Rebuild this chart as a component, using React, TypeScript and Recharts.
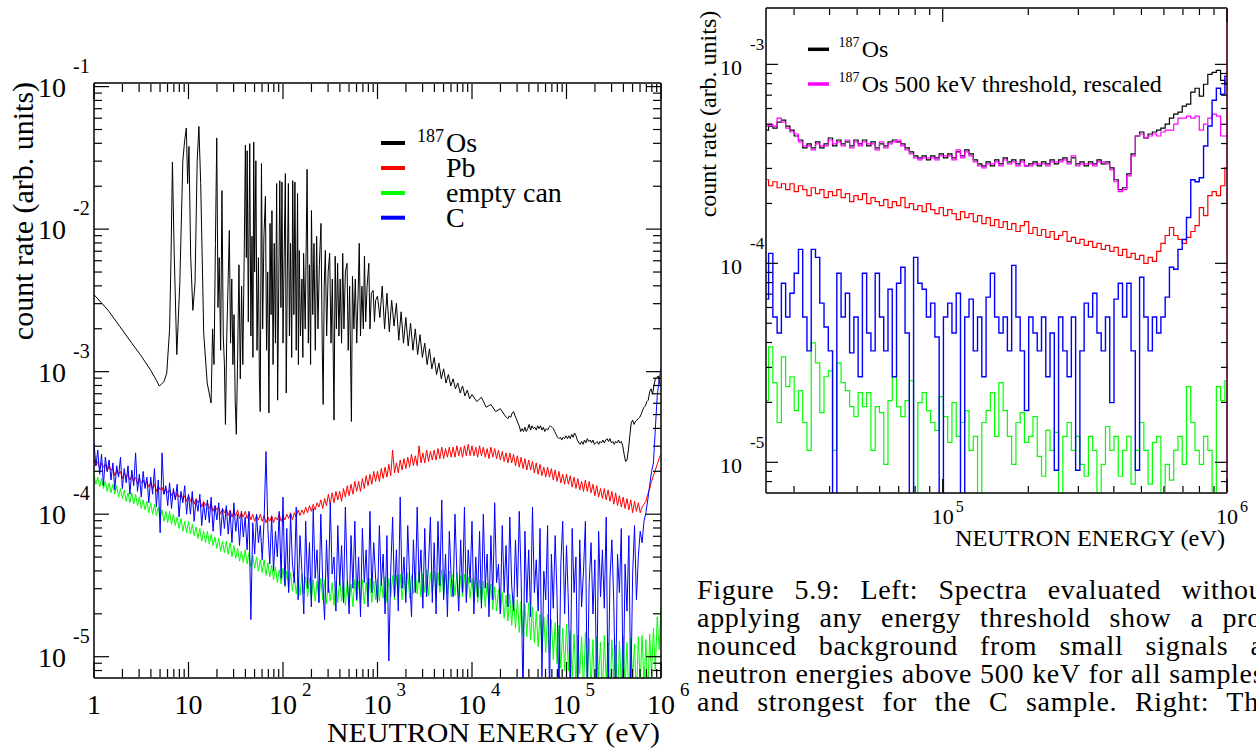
import React from 'react';
import { LineChart, Line, XAxis, YAxis } from 'recharts';

const FONT = '"Liberation Serif", "Times New Roman", Times, serif';

// ---------------- LEFT PANEL DATA (log10 of values) ----------------
// Pb, empty can and C spectra: bins equally spaced in log10(E), from 1 eV, step 0.02 decade
const leftBinStartLogE = 0;
const leftBinWidthLogE = 0.02;

const pbLogRate = [
  -3.62, -3.66, -3.63, -3.68, -3.64, -3.67, -3.65, -3.70, -3.66, -3.69,
  -3.68, -3.73, -3.69, -3.72, -3.70, -3.75, -3.71, -3.74, -3.72, -3.76,
  -3.73, -3.77, -3.74, -3.79, -3.75, -3.78, -3.76, -3.80, -3.77, -3.81,
  -3.78, -3.82, -3.79, -3.84, -3.80, -3.83, -3.81, -3.86, -3.82, -3.85,
  -3.83, -3.87, -3.84, -3.89, -3.85, -3.88, -3.86, -3.90, -3.87, -3.91,
  -3.87, -3.91, -3.88, -3.93, -3.89, -3.92, -3.90, -3.95, -3.91, -3.94,
  -3.92, -3.96, -3.93, -3.98, -3.94, -3.97, -3.95, -4.00, -3.96, -3.99,
  -3.96, -4.01, -3.97, -4.02, -3.98, -4.01, -3.97, -4.03, -3.99, -4.02,
  -3.98, -4.03, -3.99, -4.04, -4.00, -4.05, -4.01, -4.04, -4.00, -4.05,
  -4.01, -4.06, -4.02, -4.05, -4.01, -4.06, -4.02, -4.04, -4.00, -4.05,
  -4.01, -4.04, -4.00, -4.03, -3.99, -4.04, -3.99, -4.02, -3.97, -4.01,
  -3.97, -4.00, -3.95, -3.99, -3.94, -3.98, -3.93, -3.97, -3.92, -3.95,
  -3.90, -3.96, -3.89, -3.94, -3.86, -3.93, -3.85, -3.92, -3.84, -3.90,
  -3.84, -3.91, -3.82, -3.88, -3.80, -3.87, -3.79, -3.86, -3.77, -3.84,
  -3.77, -3.84, -3.75, -3.82, -3.73, -3.80, -3.72, -3.79, -3.70, -3.77,
  -3.70, -3.77, -3.68, -3.75, -3.67, -3.74, -3.65, -3.73, -3.55, -3.71,
  -3.64, -3.71, -3.62, -3.69, -3.61, -3.68, -3.60, -3.67, -3.58, -3.66,
  -3.59, -3.66, -3.52, -3.64, -3.57, -3.64, -3.55, -3.63, -3.56, -3.62,
  -3.55, -3.62, -3.54, -3.61, -3.53, -3.61, -3.54, -3.60, -3.53, -3.60,
  -3.53, -3.60, -3.52, -3.59, -3.53, -3.60, -3.52, -3.59, -3.51, -3.59,
  -3.52, -3.59, -3.53, -3.60, -3.52, -3.59, -3.53, -3.60, -3.54, -3.61,
  -3.53, -3.60, -3.54, -3.61, -3.55, -3.62, -3.56, -3.63, -3.57, -3.64,
  -3.57, -3.64, -3.58, -3.66, -3.59, -3.67, -3.60, -3.68, -3.61, -3.69,
  -3.62, -3.69, -3.63, -3.71, -3.64, -3.72, -3.65, -3.73, -3.67, -3.74,
  -3.67, -3.74, -3.68, -3.76, -3.69, -3.77, -3.70, -3.78, -3.72, -3.79,
  -3.72, -3.79, -3.73, -3.81, -3.74, -3.82, -3.75, -3.83, -3.77, -3.84,
  -3.76, -3.84, -3.77, -3.85, -3.79, -3.87, -3.80, -3.88, -3.82, -3.89,
  -3.82, -3.90, -3.83, -3.91, -3.84, -3.93, -3.85, -3.94, -3.87, -3.95,
  -3.88, -3.96, -3.89, -3.97, -3.90, -3.99, -3.91, -3.98, -3.92, -3.99,
  -3.95, -3.93, -3.91, -3.86, -3.82, -3.77, -3.73, -3.69, -3.65, -3.61,
  -3.58,
];

const emptyCanLogRate = [
  -3.72, -3.79, -3.74, -3.81, -3.75, -3.82, -3.77, -3.84, -3.78, -3.85,
  -3.79, -3.86, -3.80, -3.88, -3.82, -3.89, -3.83, -3.91, -3.85, -3.92,
  -3.85, -3.93, -3.86, -3.94, -3.88, -3.96, -3.90, -3.97, -3.91, -3.99,
  -3.92, -4.00, -3.93, -4.01, -3.95, -4.03, -3.97, -4.05, -3.98, -4.06,
  -3.98, -4.07, -4.00, -4.08, -4.02, -4.10, -4.03, -4.12, -4.05, -4.13,
  -4.05, -4.14, -4.07, -4.15, -4.09, -4.17, -4.10, -4.19, -4.12, -4.20,
  -4.12, -4.21, -4.14, -4.22, -4.16, -4.24, -4.17, -4.26, -4.19, -4.27,
  -4.19, -4.28, -4.20, -4.30, -4.22, -4.31, -4.24, -4.33, -4.26, -4.34,
  -4.25, -4.35, -4.27, -4.37, -4.29, -4.38, -4.30, -4.40, -4.32, -4.41,
  -4.32, -4.43, -4.34, -4.44, -4.36, -4.46, -4.37, -4.48, -4.39, -4.49,
  -4.38, -4.51, -4.40, -4.53, -4.41, -4.54, -4.43, -4.56, -4.44, -4.57,
  -4.42, -4.56, -4.44, -4.58, -4.45, -4.60, -4.46, -4.61, -4.47, -4.62,
  -4.45, -4.60, -4.46, -4.63, -4.47, -4.61, -4.48, -4.64, -4.47, -4.62,
  -4.46, -4.61, -4.48, -4.64, -4.47, -4.62, -4.49, -4.65, -4.46, -4.61,
  -4.47, -4.62, -4.46, -4.63, -4.48, -4.61, -4.45, -4.62, -4.47, -4.60,
  -4.45, -4.61, -4.46, -4.59, -4.44, -4.62, -4.45, -4.58, -4.43, -4.60,
  -4.43, -4.58, -4.42, -4.60, -4.44, -4.57, -4.41, -4.59, -4.43, -4.56,
  -4.41, -4.56, -4.40, -4.58, -4.42, -4.55, -4.39, -4.57, -4.41, -4.55,
  -4.40, -4.56, -4.41, -4.55, -4.39, -4.57, -4.42, -4.56, -4.40, -4.58,
  -4.42, -4.57, -4.41, -4.59, -4.43, -4.58, -4.42, -4.60, -4.44, -4.59,
  -4.45, -4.61, -4.44, -4.62, -4.46, -4.63, -4.47, -4.65, -4.48, -4.64,
  -4.49, -4.67, -4.51, -4.68, -4.53, -4.70, -4.55, -4.73, -4.57, -4.75,
  -4.56, -4.78, -4.58, -4.80, -4.60, -4.83, -4.61, -4.85, -4.63, -4.86,
  -4.62, -4.88, -4.65, -4.90, -4.68, -4.93, -4.70, -4.95, -4.72, -4.97,
  -4.70, -4.98, -4.74, -5.02, -4.76, -5.05, -4.78, -5.08, -4.80, -5.10,
  -4.77, -5.10, -4.82, -5.14, -4.84, -5.20, -4.85, -5.12, -4.86, -5.25,
  -4.83, -5.15, -4.87, -5.22, -4.88, -5.30, -4.86, -5.14, -4.90, -5.28,
  -4.85, -5.18, -4.90, -5.30, -4.88, -5.16, -4.92, -5.30, -4.89, -5.20,
  -4.86, -5.22, -4.90, -5.30, -4.87, -5.15, -4.91, -5.30, -4.86, -5.18,
  -4.85, -5.20, -4.88, -5.30, -4.84, -5.12, -4.80, -5.10, -4.72, -4.95,
  -4.65,
];

const carbonLogRate = [
  -3.50, -3.66, -3.55, -3.72, -3.58, -3.80, -3.60, -3.70, -3.62, -3.76,
  -3.64, -3.83, -3.66, -3.74, -3.60, -3.82, -3.68, -3.78, -3.66, -3.86,
  -3.69, -3.80, -3.57, -3.84, -3.72, -3.88, -3.70, -3.82, -3.74, -3.92,
  -3.74, -3.86, -3.68, -3.95, -3.76, -4.13, -3.57, -3.86, -3.80, -3.94,
  -3.78, -3.96, -3.82, -3.90, -3.79, -4.02, -3.84, -3.92, -3.80, -4.00,
  -3.86, -4.00, -3.84, -4.05, -3.90, -3.98, -3.86, -4.08, -3.92, -4.04,
  -3.90, -4.06, -3.88, -4.12, -3.94, -4.04, -3.92, -4.15, -3.96, -4.10,
  -3.94, -4.14, -3.98, -4.20, -3.92, -4.12, -4.00, -4.22, -3.98, -4.16,
  -4.02, -4.25, -3.98, -4.74, -4.06, -4.28, -4.00, -4.20, -4.08, -4.32,
  -4.04, -3.56, -4.10, -4.35, -4.02, -4.40, -4.12, -4.30, -3.98, -4.45,
  -3.88, -4.50, -4.10, -4.55, -4.00, -4.35, -4.48, -3.95, -4.60, -4.15,
  -4.40, -4.70, -4.05, -4.52, -4.20, -4.65, -3.96, -4.45, -4.25, -4.62,
  -4.00, -4.48, -4.74, -4.18, -4.55, -3.92, -4.42, -4.30, -4.68, -4.08,
  -4.50, -4.22, -4.62, -3.95, -4.45, -4.70, -4.15, -4.52, -4.05, -4.60,
  -4.30, -4.72, -4.10, -4.48, -4.25, -4.65, -3.98, -4.55, -4.20, -4.45,
  -4.62, -4.08, -4.50, -4.28, -4.70, -4.15, -5.03, -4.40, -4.02, -4.58,
  -4.25, -4.68, -3.88, -4.52, -4.30, -4.62, -4.08, -4.45, -4.72, -4.18,
  -4.55, -3.95, -4.48, -4.25, -4.66, -4.10, -4.58, -4.35, -4.02, -4.62,
  -4.20, -4.70, -4.05, -4.50, -3.90, -4.60, -4.28, -4.72, -4.12, -4.45,
  -4.58, -4.00, -4.42, -4.68, -4.18, -4.55, -3.95, -4.62, -4.25, -4.48,
  -4.05, -4.70, -4.30, -4.58, -4.12, -4.66, -4.00, -4.52, -4.28, -4.72,
  -4.15, -4.60, -3.92, -4.48, -4.35, -4.70, -4.08, -4.55, -4.22, -4.65,
  -4.02, -4.50, -4.68, -4.18, -4.58, -3.98, -4.45, -5.30, -4.12, -4.62,
  -4.25, -4.72, -3.95, -4.55, -4.32, -4.68, -4.10, -5.14, -4.40, -4.60,
  -4.08, -5.30, -4.28, -4.66, -4.15, -4.58, -5.30, -4.35, -4.05, -4.70,
  -4.22, -4.62, -5.25, -4.10, -4.55, -4.30, -5.30, -4.18, -4.65, -4.40,
  -4.05, -5.30, -4.48, -4.20, -4.70, -4.32, -5.28, -4.12, -4.58, -4.25,
  -4.66, -4.02, -5.30, -4.45, -4.18, -4.62, -5.30, -4.28, -4.55, -4.10,
  -5.30, -4.35, -4.68, -4.15, -5.28, -4.42, -4.08, -4.60, -4.30, -4.12,
  -4.20, -4.05, -3.99, -3.90, -3.80, -3.70, -3.64, -3.40, -3.17, -3.06,
  -2.98,
];

// 187Os spectrum below 24 keV: log10(E) and log10(rate) of the traced points
const osLowLogE = [
  0, 0.15, 0.27, 0.40, 0.50, 0.60, 0.66, 0.69, 0.71, 0.74,
  0.77, 0.80, 0.815, 0.83, 0.848, 0.876, 0.908, 0.94, 0.959, 0.977,
  0.991, 1.005, 1.023, 1.046, 1.069, 1.092, 1.11, 1.129, 1.161, 1.198,
  1.239, 1.255, 1.27, 1.285, 1.299, 1.312, 1.325, 1.34, 1.354, 1.368,
  1.38, 1.391, 1.405, 1.418, 1.432, 1.445, 1.458, 1.47, 1.482, 1.494,
  1.506, 1.52, 1.534, 1.548, 1.562, 1.575, 1.59, 1.602, 1.612, 1.621,
  1.633, 1.648, 1.66, 1.672, 1.682, 1.69, 1.70, 1.713, 1.725, 1.74,
  1.75, 1.759, 1.772, 1.785, 1.798, 1.814, 1.826, 1.838, 1.851, 1.863,
  1.874, 1.883, 1.895, 1.907, 1.92, 1.933, 1.943, 1.955, 1.966, 1.978,
  1.989, 2.0, 2.012, 2.025, 2.034, 2.046, 2.057, 2.068, 2.08, 2.092,
  2.103, 2.115, 2.126, 2.14, 2.154, 2.163, 2.172, 2.185, 2.2, 2.21,
  2.218, 2.235, 2.255, 2.268, 2.28, 2.292, 2.301, 2.315, 2.328, 2.342,
  2.356, 2.37, 2.385, 2.402, 2.415, 2.425, 2.436, 2.448, 2.462, 2.478,
  2.494, 2.508, 2.522, 2.54, 2.552, 2.565, 2.578, 2.592, 2.605, 2.62,
  2.632, 2.645, 2.66, 2.678, 2.69, 2.705, 2.724, 2.735, 2.75, 2.765,
  2.78, 2.795, 2.807, 2.82, 2.835, 2.85, 2.862, 2.875, 2.89, 2.908,
  2.92, 2.935, 2.954, 2.968, 2.98, 3.0, 3.025, 3.05, 3.075, 3.1,
  3.125, 3.15, 3.175, 3.2, 3.225, 3.25, 3.275, 3.3, 3.325, 3.35,
  3.375, 3.4, 3.425, 3.45, 3.475, 3.5, 3.525, 3.55, 3.575, 3.6,
  3.625, 3.65, 3.675, 3.7, 3.725, 3.75, 3.775, 3.8, 3.825, 3.85,
  3.875, 3.9, 3.925, 3.95, 3.975, 4.0, 4.05, 4.1, 4.15, 4.2,
  4.25, 4.3, 4.35,
];
const osLowLogRate = [
  -2.46, -2.57, -2.68, -2.80, -2.89, -2.99, -3.06, -3.10, -3.09, -3.07,
  -3.01, -2.70, -2.20, -1.53, -2.15, -2.88, -2.38, -1.52, -1.38, -1.29,
  -1.68, -1.42, -2.19, -2.57, -2.38, -1.52, -1.28, -1.68, -2.73, -3.08,
  -3.22, -2.70, -2.95, -2.10, -1.36, -2.55, -2.20, -2.85, -1.73, -2.75,
  -2.95, -3.37, -2.75, -2.40, -2.01, -2.80, -2.35, -2.95, -2.60, -3.20,
  -3.44, -2.90, -2.25, -3.05, -2.40, -2.95, -2.15, -1.41, -2.20, -1.45,
  -2.65, -1.40, -2.75, -2.05, -2.90, -1.39, -2.30, -1.52, -2.85, -2.20,
  -3.05, -3.28, -1.54, -2.70, -2.05, -1.77, -2.85, -2.30, -3.29, -1.96,
  -2.60, -1.87, -2.95, -2.10, -2.80, -1.68, -3.20, -2.40, -1.66, -2.55,
  -1.67, -2.80, -2.20, -1.61, -3.15, -2.30, -1.68, -2.75, -2.10, -2.90,
  -1.66, -2.60, -1.67, -2.85, -1.75, -2.95, -2.15, -2.75, -2.35, -2.90,
  -2.17, -2.70, -1.58, -2.80, -2.25, -2.95, -1.87, -2.60, -2.10, -2.85,
  -2.05, -2.70, -2.25, -1.96, -2.80, -3.23, -2.40, -2.15, -2.75, -2.30,
  -2.17, -2.80, -2.35, -3.34, -2.19, -2.70, -2.24, -2.75, -2.35, -2.80,
  -2.17, -2.70, -2.30, -2.24, -2.85, -2.40, -3.35, -2.33, -2.70, -2.35,
  -2.80, -2.45, -2.10, -2.75, -2.40, -2.70, -2.19, -2.65, -2.40, -2.24,
  -2.70, -2.45, -2.43, -2.65, -2.50, -2.47, -2.62, -2.40, -2.70, -2.45,
  -2.72, -2.50, -2.68, -2.52, -2.78, -2.58, -2.80, -2.62, -2.82, -2.66,
  -2.85, -2.70, -2.88, -2.74, -2.90, -2.80, -2.95, -2.84, -2.98, -2.90,
  -3.02, -2.94, -3.05, -2.98, -3.08, -3.02, -3.10, -3.05, -3.12, -3.08,
  -3.15, -3.10, -3.17, -3.13, -3.19, -3.16, -3.21, -3.18, -3.25, -3.23,
  -3.28, -3.26, -3.31,
];

// ---------------- RIGHT PANEL DATA (histogram bins, log10(E) from 4.38, step 0.015) ----------------
const rightBinStartLogE = 4.38;
const rightBinWidthLogE = 0.015;

const osRightLogRate = [
  -3.33, -3.31, -3.32, -3.29, -3.28, -3.31, -3.33, -3.36, -3.38, -3.42,
  -3.40, -3.42, -3.39, -3.42, -3.40, -3.37, -3.41, -3.38, -3.40, -3.39,
  -3.41, -3.38, -3.40, -3.38, -3.41, -3.39, -3.42, -3.40, -3.41, -3.39,
  -3.38, -3.39, -3.40, -3.42, -3.44, -3.46, -3.47, -3.46, -3.48, -3.46,
  -3.47, -3.45, -3.47, -3.45, -3.47, -3.44, -3.46, -3.43, -3.45, -3.48,
  -3.50, -3.51, -3.49, -3.51, -3.48, -3.50, -3.47, -3.49, -3.48, -3.50,
  -3.48, -3.51, -3.50, -3.49, -3.51, -3.49, -3.50, -3.48, -3.50, -3.48,
  -3.47, -3.49, -3.47, -3.50, -3.49, -3.51, -3.49, -3.50, -3.48, -3.50,
  -3.49, -3.52, -3.58, -3.63, -3.62, -3.55, -3.45, -3.36, -3.34, -3.37,
  -3.35, -3.34, -3.33, -3.32, -3.30, -3.27, -3.25, -3.24, -3.21, -3.20,
  -3.14, -3.12, -3.16, -3.10, -3.05, -3.04, -3.03, -3.08, -3.10,
];

const osThresholdLogRate = [
  -3.31, -3.30, -3.31, -3.27, -3.29, -3.32, -3.34, -3.35, -3.39, -3.41,
  -3.41, -3.43, -3.40, -3.41, -3.41, -3.38, -3.40, -3.39, -3.41, -3.38,
  -3.42, -3.39, -3.41, -3.39, -3.40, -3.40, -3.43, -3.39, -3.42, -3.40,
  -3.39, -3.38, -3.41, -3.43, -3.45, -3.47, -3.48, -3.47, -3.47, -3.47,
  -3.48, -3.46, -3.46, -3.46, -3.48, -3.43, -3.47, -3.44, -3.46, -3.49,
  -3.51, -3.52, -3.50, -3.50, -3.49, -3.51, -3.48, -3.50, -3.49, -3.51,
  -3.49, -3.51, -3.51, -3.50, -3.50, -3.50, -3.51, -3.49, -3.49, -3.49,
  -3.48, -3.50, -3.46, -3.51, -3.50, -3.50, -3.50, -3.51, -3.49, -3.49,
  -3.50, -3.53, -3.59, -3.64, -3.63, -3.56, -3.46, -3.36, -3.35, -3.37,
  -3.36, -3.35, -3.36, -3.34, -3.33, -3.33, -3.30, -3.27, -3.27, -3.26,
  -3.27, -3.26, -3.33, -3.30, -3.27, -3.25, -3.26, -3.36, -3.36,
];

const pbRightLogRate = [
  -3.58, -3.61, -3.59, -3.62, -3.60, -3.63, -3.60, -3.64, -3.61, -3.63,
  -3.66, -3.62, -3.65, -3.63, -3.67, -3.64, -3.66, -3.63, -3.67, -3.65,
  -3.69, -3.66, -3.68, -3.65, -3.70, -3.67, -3.69, -3.71, -3.68, -3.72,
  -3.69, -3.71, -3.67, -3.72, -3.70, -3.73, -3.71, -3.74, -3.70, -3.73,
  -3.75, -3.72, -3.76, -3.73, -3.75, -3.78, -3.74, -3.77, -3.75, -3.79,
  -3.76, -3.80, -3.77, -3.81, -3.78, -3.82, -3.79, -3.83, -3.80, -3.84,
  -3.81, -3.79, -3.85, -3.82, -3.86, -3.83, -3.87, -3.84, -3.88, -3.86,
  -3.84, -3.89, -3.87, -3.90, -3.88, -3.91, -3.89, -3.92, -3.90, -3.93,
  -3.91, -3.94, -3.92, -3.96, -3.93, -3.97, -3.95, -3.98, -3.96, -4.00,
  -3.97, -3.99, -3.94, -3.90, -3.86, -3.82, -3.86, -3.88, -3.90, -3.87,
  -3.84, -3.81, -3.72, -3.76, -3.66, -3.64, -3.66, -3.61, -3.52,
];

const carbonRightLogRate = [
  -4.18, -3.95, -4.27, -4.35, -4.10, -4.27, -4.15, -4.05, -3.93, -4.27,
  -4.44, -3.93, -3.97, -4.20, -4.32, -4.44, -5.30, -4.05, -4.27, -4.15,
  -4.45, -4.27, -4.57, -4.05, -4.35, -4.44, -4.05, -4.27, -4.44, -4.13,
  -4.57, -4.10, -4.02, -4.35, -5.30, -3.97, -4.10, -4.13, -4.27, -4.20,
  -4.37, -5.30, -4.27, -4.20, -4.35, -4.15, -5.30, -4.27, -4.18, -4.44,
  -4.27, -4.57, -4.17, -4.05, -4.27, -4.35, -4.27, -4.44, -4.01, -4.27,
  -4.44, -4.74, -4.27, -4.35, -4.44, -4.27, -4.57, -4.35, -5.04, -4.27,
  -4.44, -4.57, -4.27, -5.04, -4.44, -4.20, -4.27, -4.15, -4.35, -4.44,
  -4.27, -4.70, -4.18, -4.10, -4.27, -4.10, -4.44, -5.04, -4.07, -4.27,
  -4.44, -4.27, -4.35, -4.27, -4.17, -4.02, -4.03, -3.93, -3.88, -3.77,
  -3.58, -3.59, -3.57, -3.41, -3.31, -3.18, -3.12, -3.15, -3.06,
];

const emptyCanRightLogRate = [
  -4.69, -4.42, -4.60, -4.80, -4.47, -4.62, -4.57, -4.74, -4.64, -4.80,
  -4.94, -4.40, -4.50, -4.75, -4.57, -4.54, -4.94, -4.50, -4.60, -4.64,
  -4.72, -4.77, -4.65, -4.72, -4.65, -4.94, -4.72, -4.75, -5.01, -4.69,
  -4.57, -4.72, -4.77, -4.69, -4.59, -5.30, -4.70, -4.65, -4.74, -4.80,
  -4.84, -4.67, -4.77, -4.90, -4.70, -4.87, -4.80, -4.74, -4.94, -4.87,
  -5.30, -4.80, -4.74, -4.65, -4.87, -4.60, -4.74, -4.87, -5.01, -4.80,
  -4.75, -4.90, -4.87, -4.77, -4.97, -5.07, -4.84, -4.94, -4.85, -5.30,
  -4.87, -4.80, -4.94, -4.87, -5.01, -5.07, -4.87, -4.94, -5.30, -5.01,
  -4.82, -4.94, -4.87, -5.07, -4.94, -4.87, -5.11, -4.94, -4.80, -4.94,
  -5.11, -4.90, -4.87, -5.30, -5.01, -5.09, -4.94, -4.87, -5.01, -4.62,
  -4.80, -4.94, -5.01, -4.87, -4.94, -5.30, -4.62, -4.69, -4.59,
];

// ---------------- AXES / LABELS ----------------
const leftXDomain = [1, 1e6];
const leftYDomain = [7.09e-6, 0.106];
const rightXDomain = [2.39e4, 1e6];
const rightYDomain = [7.01e-6, 1.92e-3];

const leftXMajors = [1, 10, 100, 1000, 10000, 100000, 1000000];
const leftXLabelBase = ['1', '10', '10', '10', '10', '10', '10'];
const leftXLabelExp = ['', '', '2', '3', '4', '5', '6'];
const leftYMajors = [1e-5, 1e-4, 1e-3, 1e-2, 1e-1];
const leftYLabelExp = ['-5', '-4', '-3', '-2', '-1'];
const rightXMajors = [1e5, 1e6];
const rightXLabelExp = ['5', '6'];
const rightYMajors = [1e-5, 1e-4, 1e-3];
const rightYLabelExp = ['-5', '-4', '-3'];
const minorMultipliers = [2, 3, 4, 5, 6, 7, 8, 9];

const leftLegendNames = ['Os', 'Pb', 'empty can', 'C'];
const leftLegendColors = ['#000000', '#ff0000', '#00ff00', '#0000ff'];
const rightLegendNames = ['Os', 'Os 500 keV threshold, rescaled'];
const rightLegendColors = ['#000000', '#ff00ff'];

const captionLines = [
  'Figure 5.9: Left: Spectra evaluated without',
  'applying any energy threshold show a pro-',
  'nounced background from small signals at',
  'neutron energies above 500 keV for all samples,',
  'and strongest for the C sample. Right: The',
];

// ---------------- helpers ----------------
type Pt = { e: number; v: number };
const fromBins = (startLog: number, widthLog: number, logRates: number[]): Pt[] =>
  logRates.map((lv, i) => ({ e: Math.pow(10, startLog + widthLog * i), v: Math.pow(10, lv) }));
const fromPairs = (logE: number[], logRates: number[]): Pt[] =>
  logE.map((le, i) => ({ e: Math.pow(10, le), v: Math.pow(10, logRates[i]) }));

const leftOs = [...fromPairs(osLowLogE, osLowLogRate), ...fromBins(rightBinStartLogE, rightBinWidthLogE, osRightLogRate)];
const leftPb = fromBins(leftBinStartLogE, leftBinWidthLogE, pbLogRate);
const leftEmpty = fromBins(leftBinStartLogE, leftBinWidthLogE, emptyCanLogRate);
const leftC = fromBins(leftBinStartLogE, leftBinWidthLogE, carbonLogRate);

const rightOs = fromBins(rightBinStartLogE, rightBinWidthLogE, osRightLogRate);
const rightOsThr = fromBins(rightBinStartLogE, rightBinWidthLogE, osThresholdLogRate);
const rightPb = fromBins(rightBinStartLogE, rightBinWidthLogE, pbRightLogRate);
const rightC = fromBins(rightBinStartLogE, rightBinWidthLogE, carbonRightLogRate);
const rightEmpty = fromBins(rightBinStartLogE, rightBinWidthLogE, emptyCanRightLogRate);

function logTicks(lo: number, hi: number): number[] {
  const out: number[] = [];
  for (let p = Math.floor(Math.log10(lo)); p <= Math.floor(Math.log10(hi)); p++) {
    const d = Math.pow(10, p);
    [1, ...minorMultipliers].forEach((m) => {
      const t = d * m;
      if (t >= lo * 0.9999 && t <= hi * 1.0001) out.push(t);
    });
  }
  return out;
}

type Side = 'bottom' | 'top' | 'left' | 'right';
function tickRenderer(
  side: Side,
  majorLen: number,
  minorLen: number,
  majors?: number[],
  label?: (i: number, x: number, y: number) => React.ReactNode
) {
  return (props: any) => {
    const { payload } = props;
    let x = Number(props.x);
    let y = Number(props.y);
    if (side === 'bottom') y -= 1;
    if (side === 'top') y += 1;
    const v = Number(payload && payload.value);
    const lg = Math.log10(v);
    const isMajor = Math.abs(lg - Math.round(lg)) < 1e-6;
    const len = isMajor ? majorLen : minorLen;
    const dx = side === 'left' ? len : side === 'right' ? -len : 0;
    const dy = side === 'bottom' ? -len : side === 'top' ? len : 0;
    let lab: React.ReactNode = null;
    if (isMajor && majors && label) {
      const i = majors.findIndex((m) => Math.abs(Math.log10(m) - lg) < 1e-6);
      if (i >= 0) lab = label(i, x, y);
    }
    return (
      <g>
        <line x1={x} y1={y} x2={x + dx} y2={y + dy} stroke="#000" strokeWidth={1.2} />
        {lab}
      </g>
    );
  };
}

const txt = { fontFamily: FONT, fill: '#000' };

const leftXLabel = (i: number, x: number, y: number) => (
  <g>
    <text x={x} y={y + 37} textAnchor="middle" fontSize={28} style={txt}>{leftXLabelBase[i]}</text>
    {leftXLabelExp[i] ? <text x={x + 19} y={y + 19} fontSize={19} style={txt}>{leftXLabelExp[i]}</text> : null}
  </g>
);
const leftYLabel = (i: number, x: number, y: number) => (
  <g>
    <text x={x - 28} y={y + 10} textAnchor="end" fontSize={28} style={txt}>10</text>
    <text x={x - 21} y={y - 14} fontSize={20} style={txt}>{leftYLabelExp[i]}</text>
  </g>
);
const rightXLabel = (i: number, x: number, y: number) => (
  <g>
    <text x={x} y={y + 32} textAnchor="middle" fontSize={22} style={txt}>10</text>
    <text x={x + 13} y={y + 20} fontSize={16} style={txt}>{rightXLabelExp[i]}</text>
  </g>
);
const rightYLabel = (i: number, x: number, y: number) => (
  <g>
    <text x={x - 24} y={y + 10.5} textAnchor="end" fontSize={22} style={txt}>10</text>
    <text x={x - 16} y={y - 14} fontSize={17} style={txt}>{rightYLabelExp[i]}</text>
  </g>
);

const leftXTicks = logTicks(leftXDomain[0], leftXDomain[1]);
const leftYTicks = logTicks(leftYDomain[0], leftYDomain[1]);
const rightXTicks = logTicks(rightXDomain[0], rightXDomain[1]);
const rightYTicks = logTicks(rightYDomain[0], rightYDomain[1]);

const frame = { stroke: '#000', strokeWidth: 1.5 };

function LeftPanel() {
  return (
    <LineChart width={700} height={749} margin={{ top: 82, right: 38, bottom: 70, left: 93 }}>
      <XAxis xAxisId="b" dataKey="e" type="number" scale="log" domain={leftXDomain} allowDataOverflow
        ticks={leftXTicks} interval={0} height={1} tickSize={0} tickMargin={0} tickLine={false}
        axisLine={frame} orientation="bottom" tick={tickRenderer('bottom', 15, 8, leftXMajors, leftXLabel)} />
      <XAxis xAxisId="t" dataKey="e" type="number" scale="log" domain={leftXDomain} allowDataOverflow
        ticks={leftXTicks} interval={0} height={1} tickSize={0} tickMargin={0} tickLine={false}
        axisLine={frame} orientation="top" tick={tickRenderer('top', 15, 8)} />
      <YAxis yAxisId="l" type="number" scale="log" domain={leftYDomain} allowDataOverflow
        ticks={leftYTicks} interval={0} width={1} tickSize={0} tickMargin={0} tickLine={false}
        axisLine={frame} orientation="left" tick={tickRenderer('left', 15, 8, leftYMajors, leftYLabel)} />
      <YAxis yAxisId="r" type="number" scale="log" domain={leftYDomain} allowDataOverflow
        ticks={leftYTicks} interval={0} width={1} tickSize={0} tickMargin={0} tickLine={false}
        axisLine={frame} orientation="right" tick={tickRenderer('right', 15, 8)} />
      <Line xAxisId="b" yAxisId="l" data={leftOs} dataKey="v" type="linear" stroke="#000000" strokeWidth={1} dot={false} activeDot={false} isAnimationActive={false} />
      <Line xAxisId="b" yAxisId="l" data={leftPb} dataKey="v" type="linear" stroke="#ff0000" strokeWidth={1} dot={false} activeDot={false} isAnimationActive={false} />
      <Line xAxisId="b" yAxisId="l" data={leftEmpty} dataKey="v" type="linear" stroke="#00ff00" strokeWidth={1} dot={false} activeDot={false} isAnimationActive={false} />
      <Line xAxisId="b" yAxisId="l" data={leftC} dataKey="v" type="linear" stroke="#0000ff" strokeWidth={1} dot={false} activeDot={false} isAnimationActive={false} />
      <Line xAxisId="t" yAxisId="r" data={leftOs} dataKey="v" stroke="none" strokeWidth={0} dot={false} activeDot={false} isAnimationActive={false} />
    </LineChart>
  );
}

function RightPanel() {
  return (
    <LineChart width={576} height={560} margin={{ top: 7, right: 28, bottom: 66, left: 85 }}>
      <XAxis xAxisId="b" dataKey="e" type="number" scale="log" domain={rightXDomain} allowDataOverflow
        ticks={rightXTicks} interval={0} height={1} tickSize={0} tickMargin={0} tickLine={false}
        axisLine={frame} orientation="bottom" tick={tickRenderer('bottom', 13, 6, rightXMajors, rightXLabel)} />
      <XAxis xAxisId="t" dataKey="e" type="number" scale="log" domain={rightXDomain} allowDataOverflow
        ticks={rightXTicks} interval={0} height={1} tickSize={0} tickMargin={0} tickLine={false}
        axisLine={frame} orientation="top" tick={tickRenderer('top', 13, 6)} />
      <YAxis yAxisId="l" type="number" scale="log" domain={rightYDomain} allowDataOverflow
        ticks={rightYTicks} interval={0} width={1} tickSize={0} tickMargin={0} tickLine={false}
        axisLine={frame} orientation="left" tick={tickRenderer('left', 12, 6, rightYMajors, rightYLabel)} />
      <YAxis yAxisId="r" type="number" scale="log" domain={rightYDomain} allowDataOverflow
        ticks={rightYTicks} interval={0} width={1} tickSize={0} tickMargin={0} tickLine={false}
        axisLine={{ stroke: '#5a1530', strokeWidth: 1.8 }} orientation="right" tick={tickRenderer('right', 12, 6)} />
      <Line xAxisId="b" yAxisId="l" data={rightOs} dataKey="v" type="step" stroke="#000000" strokeWidth={1.2} dot={false} activeDot={false} isAnimationActive={false} />
      <Line xAxisId="b" yAxisId="l" data={rightOsThr} dataKey="v" type="step" stroke="#ff00ff" strokeWidth={1.2} dot={false} activeDot={false} isAnimationActive={false} />
      <Line xAxisId="b" yAxisId="l" data={rightPb} dataKey="v" type="step" stroke="#ff0000" strokeWidth={1.2} dot={false} activeDot={false} isAnimationActive={false} />
      <Line xAxisId="b" yAxisId="l" data={rightEmpty} dataKey="v" type="step" stroke="#00ff00" strokeWidth={1.2} dot={false} activeDot={false} isAnimationActive={false} />
      <Line xAxisId="b" yAxisId="l" data={rightC} dataKey="v" type="step" stroke="#0000ff" strokeWidth={1.4} dot={false} activeDot={false} isAnimationActive={false} />
      <Line xAxisId="t" yAxisId="r" data={rightOs} dataKey="v" stroke="none" strokeWidth={0} dot={false} activeDot={false} isAnimationActive={false} />
    </LineChart>
  );
}

function Overlay() {
  const leftRowY = [143, 168, 193, 217.7];
  const rightRowY = [49.3, 84];
  return (
    <svg width={1256} height={749} style={{ position: 'absolute', left: 0, top: 0, pointerEvents: 'none' }}>
      <text transform="translate(33,211) rotate(-90)" textAnchor="middle" fontSize={30} style={txt}>count rate (arb. units)</text>
      <text x={327} y={742} fontSize={27} textLength={333} lengthAdjust="spacingAndGlyphs" style={txt}>NEUTRON ENERGY (eV)</text>
      <text transform="translate(716,114) rotate(-90)" textAnchor="middle" fontSize={24} style={txt}>count rate (arb. units)</text>
      <text x={955} y={546} fontSize={24} textLength={270} lengthAdjust="spacingAndGlyphs" style={txt}>NEUTRON ENERGY (eV)</text>
      {leftLegendNames.map((n, i) => (
        <g key={n}>
          <line x1={381} x2={405} y1={leftRowY[i]} y2={leftRowY[i]} stroke={leftLegendColors[i]} strokeWidth={4} />
          {i === 0 ? <text x={417} y={leftRowY[i] - 1} fontSize={18} style={txt}>187</text> : null}
          <text x={446} y={leftRowY[i] + 9} fontSize={28} style={txt}>{n}</text>
        </g>
      ))}
      {rightLegendNames.map((n, i) => (
        <g key={n}>
          <line x1={808} x2={829} y1={rightRowY[i]} y2={rightRowY[i]} stroke={rightLegendColors[i]} strokeWidth={3.5} />
          <text x={838.6} y={rightRowY[i] - 2} fontSize={14} style={txt}>187</text>
          <text x={861.7} y={rightRowY[i] + 8} fontSize={24} style={txt}>{n}</text>
        </g>
      ))}
    </svg>
  );
}

export default function App() {
  return (
    <div style={{ position: 'absolute', left: 0, top: 0, width: 1256, height: 749, overflow: 'hidden', background: '#fff' }}>
      <div style={{ position: 'absolute', left: 0, top: 0 }}>
        <LeftPanel />
      </div>
      <div style={{ position: 'absolute', left: 680, top: 0 }}>
        <RightPanel />
      </div>
      <Overlay />
      <div style={{ position: 'absolute', left: 697, top: 576, width: 575, fontFamily: FONT, fontSize: 28, lineHeight: '28px', letterSpacing: '0.7px', color: '#000' }}>
        {captionLines.map((l, i) => (
          <div key={i} style={{ height: 28, whiteSpace: 'nowrap', textAlign: 'justify', textAlignLast: 'justify' }}>{l}</div>
        ))}
      </div>
    </div>
  );
}
